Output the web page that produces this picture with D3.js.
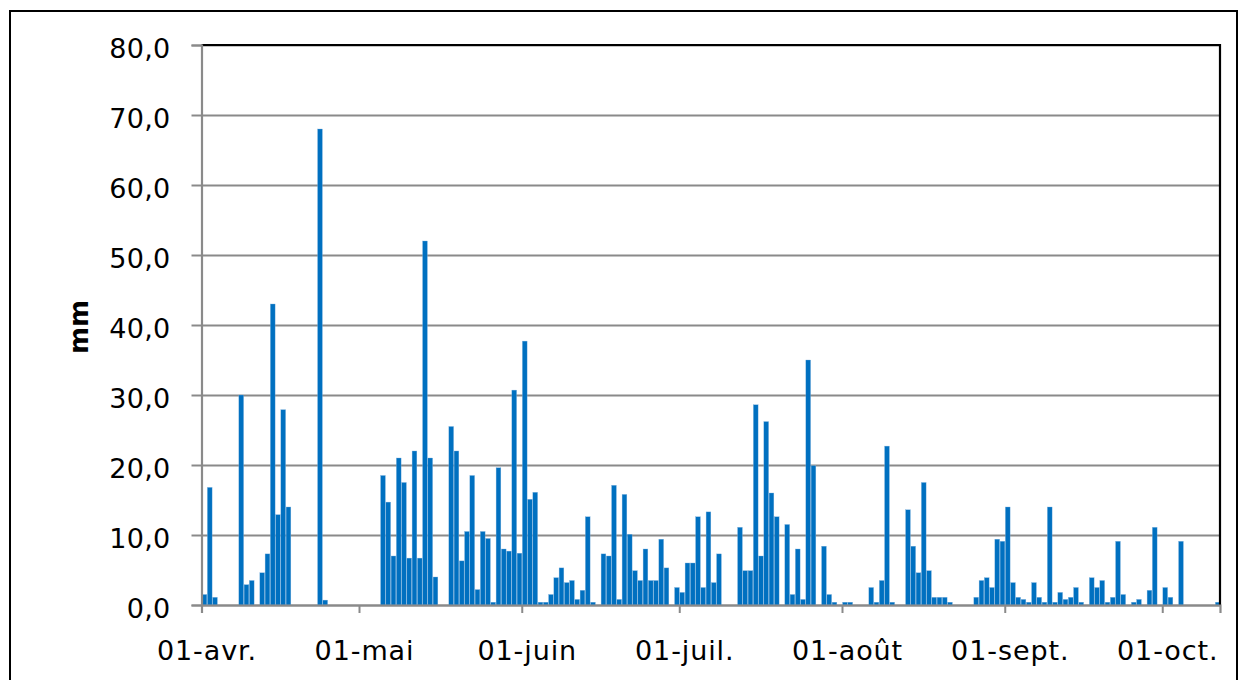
<!DOCTYPE html>
<html>
<head>
<meta charset="utf-8">
<script src="https://cdn.jsdelivr.net/npm/d3@7"></script>
<style>
  html, body { margin: 0; padding: 0; background: #ffffff; }
  svg { display: block; }
</style>
</head>
<body>
<svg id="chart" width="1247" height="680"></svg>
<script>
// ---- DATA ----
const startDate = "2013-04-01";
const endDate = "2013-10-12"; // exclusive end of last day (11 oct.)
// daily precipitation (mm), one value per day from 01-avr.
const rain = [
  1.5, 16.8, 1.1, 0, 0, 0, 0, 30.0, 2.9, 3.5,
  0, 4.6, 7.3, 43.0, 12.9, 27.9, 14.0, 0, 0, 0,
  0, 0, 68.0, 0.7, 0, 0, 0, 0, 0, 0,
  0, 0, 0, 0, 18.5, 14.7, 7.0, 21.0, 17.5, 6.7,
  22.0, 6.7, 52.0, 21.0, 4.0, 0, 0, 25.5, 22.0, 6.3,
  10.5, 18.5, 2.2, 10.5, 9.5, 0.4, 19.6, 8.0, 7.7, 30.7,
  7.4, 37.7, 15.1, 16.1, 0.4, 0.4, 1.5, 3.9, 5.3, 3.2,
  3.5, 0.8, 2.1, 12.6, 0.4, 0, 7.3, 7.0, 17.1, 0.8,
  15.8, 10.1, 4.9, 3.5, 8.0, 3.5, 3.5, 9.4, 5.3, 0,
  2.5, 1.8, 6.0, 6.0, 12.6, 2.5, 13.3, 3.2, 7.3, 0,
  0, 0, 11.1, 4.9, 4.9, 28.6, 7.0, 26.2, 16.0, 12.6,
  0, 11.5, 1.5, 8.0, 0.8, 35.0, 19.9, 0, 8.4, 1.5,
  0.4, 0, 0.4, 0.4, 0, 0, 0, 2.5, 0.4, 3.5,
  22.7, 0.4, 0, 0, 13.6, 8.4, 4.6, 17.5, 4.9, 1.1,
  1.1, 1.1, 0.4, 0, 0, 0, 0, 1.1, 3.5, 3.9,
  2.5, 9.4, 9.1, 14.0, 3.2, 1.1, 0.8, 0.4, 3.2, 1.1,
  0.4, 14.0, 0.4, 1.8, 0.8, 1.1, 2.5, 0.4, 0, 3.9,
  2.5, 3.5, 0.4, 1.1, 9.1, 1.5, 0, 0.4, 0.8, 0,
  2.1, 11.1, 0, 2.5, 1.1, 0, 9.1, 0, 0, 0,
  0, 0, 0, 0.4
];
const monthTicks = ["2013-04-01", "2013-05-01", "2013-06-01", "2013-07-01", "2013-08-01", "2013-09-01", "2013-10-01"];
const monthLabels = ["01-avr.", "01-mai", "01-juin", "01-juil.", "01-août", "01-sept.", "01-oct."];
const yTicks = [0, 10, 20, 30, 40, 50, 60, 70, 80];
const yTitle = "mm";

// ---- LAYOUT ----
const parse = d3.timeParse("%Y-%m-%d");
const svg = d3.select("#chart");
const L = 201.5, R = 1220, T = 45, B = 605;
const font = "'DejaVu Sans', Verdana, sans-serif";

svg.append("rect").attr("x", 0).attr("y", 0).attr("width", 1247).attr("height", 680).attr("fill", "#fff");
// outer chart frame
svg.append("rect").attr("x", 10).attr("y", 11).attr("width", 1227).attr("height", 720)
  .attr("fill", "none").attr("stroke", "#000").attr("stroke-width", 2);

const x = d3.scaleTime().domain([parse(startDate), parse(endDate)]).range([L, R]);
const y = d3.scaleLinear().domain([0, 80]).range([B, T]);

const days = rain.map((v, i) => ({ date: d3.timeDay.offset(parse(startDate), i), value: v }));

// gridlines
const grid = svg.append("g").attr("transform", `translate(${L},0)`)
  .call(d3.axisLeft(y).tickValues(yTicks).tickSize(-(R - L)).tickFormat(""));
grid.select(".domain").remove();
grid.selectAll("line").attr("stroke", "#8a8a8a").attr("stroke-width", 2);

// bars
svg.append("g").selectAll("rect").data(days.filter(d => d.value > 0)).join("rect")
  .attr("x", d => x(d.date) + 0.6)
  .attr("width", d => x(d3.timeDay.offset(d.date, 1)) - x(d.date) - 0.5)
  .attr("y", d => y(d.value))
  .attr("height", d => y(0) - y(d.value))
  .attr("fill", "#0070C0")
  .attr("stroke", "#7fb2de").attr("stroke-width", 0.35);

// plot border top & right (black)
svg.append("path").attr("d", `M${L},${T}H${R}V${B}`).attr("fill", "none")
  .attr("stroke", "#000").attr("stroke-width", 2.2);

// y axis
const yAxis = svg.append("g").attr("transform", `translate(${L},0)`)
  .call(d3.axisLeft(y).tickValues(yTicks).tickSize(10).tickPadding(21)
    .tickFormat(d => d3.format(".1f")(d).replace(".", ",")));
yAxis.select(".domain").attr("stroke", "#8a8a8a").attr("stroke-width", 2.2);
yAxis.selectAll("line").attr("stroke", "#8a8a8a").attr("stroke-width", 2);
yAxis.selectAll("text").attr("font-family", font).attr("font-size", 27).attr("fill", "#000")
  .attr("dy", "0.45em").attr("letter-spacing", 0.3);

// x axis
const xAxis = svg.append("g").attr("transform", `translate(0,${B})`)
  .call(d3.axisBottom(x).tickValues(monthTicks.map(parse)).tickSize(8).tickPadding(28)
    .tickFormat((d, i) => monthLabels[i]));
xAxis.select(".domain").attr("stroke", "#8a8a8a").attr("stroke-width", 2.2);
xAxis.selectAll("line").attr("stroke", "#8a8a8a").attr("stroke-width", 2);
xAxis.selectAll("text").attr("font-family", font).attr("font-size", 27).attr("fill", "#000")
  .attr("dy", "0.71em").attr("dx", 5).attr("letter-spacing", 0.9);

// y title
svg.append("text").attr("transform", "translate(88,327) rotate(-90)")
  .attr("text-anchor", "middle").attr("font-family", font).attr("font-weight", "bold")
  .attr("font-size", 26).attr("fill", "#000").text(yTitle);
</script>
</body>
</html>
